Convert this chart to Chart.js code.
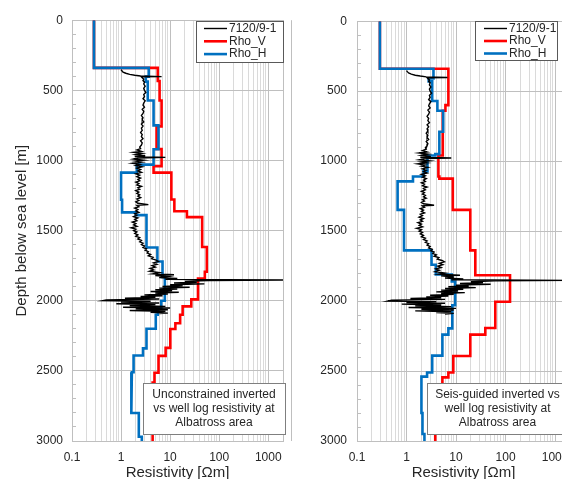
<!DOCTYPE html>
<html><head><meta charset="utf-8">
<script src="https://cdn.jsdelivr.net/npm/chart.js@4.4.1/dist/chart.umd.min.js"></script>
<style>
html,body{margin:0;padding:0;background:#fff;overflow:hidden;width:562px;height:479px;position:relative}
#c1{position:absolute;left:0;top:0}
#c2{position:absolute;left:280px;top:0}
</style></head><body>
<canvas id="c1" width="292" height="490"></canvas>
<canvas id="c2" width="310" height="490"></canvas>
<script>
// ---------- DATA ----------
const seriesNames = ['7120/9-1', 'Rho_V', 'Rho_H'];
const xTickLabels = ['0.1', '1', '10', '100', '1000'];
const yTickLabels = ['0', '500', '1000', '1500', '2000', '2500', '3000'];
const xTitle = 'Resistivity [Ωm]';
const yTitle = 'Depth below sea level [m]';
const noteLeft = ['Unconstrained inverted', 'vs well log resistivity at', 'Albatross area'];
const noteRight = ['Seis-guided inverted vs', 'well log resistivity at', 'Albatross area'];

// well log 7120/9-1 (depth m, resistivity ohm-m)
const wellDepth = [353,362,370,378,386,392,398,402,404,410,420,430,440,455,470,485,500,515,530,545,560,575,590,605,620,635,650,665,680,695,710,725,740,755,770,785,800,815,830,845,860,875,890,905,915,925,935,942,950,958,966,972,978,982,990,998,1005,1012,1020,1028,1036,1045,1055,1065,1075,1085,1095,1105,1115,1125,1135,1145,1155,1165,1175,1185,1195,1205,1215,1225,1235,1245,1255,1265,1275,1285,1295,1305,1315,1320,1330,1340,1350,1360,1370,1380,1390,1400,1410,1420,1430,1440,1450,1460,1470,1480,1490,1500,1510,1520,1530,1540,1550,1560,1570,1580,1590,1600,1610,1620,1630,1640,1650,1660,1670,1680,1690,1700,1710,1720,1730,1740,1750,1760,1770,1780,1790,1800,1808,1815,1820,1828,1835,1842,1848,1852,1856,1862,1868,1874,1880,1886,1892,1898,1904,1910,1916,1922,1928,1934,1940,1946,1952,1958,1964,1970,1976,1982,1988,1994,2000,2004,2010,2016,2022,2028,2034,2040,2046,2052,2058,2064,2070,2076,2082,2088,2092];
const wellRes = [1.0,1.05,1.1,1.25,1.5,1.9,2.5,6.7,2.6,2.7,2.9,2.8,3.0,2.9,3.1,2.9,3.0,3.2,2.9,3.0,2.8,3.1,2.9,2.8,3.0,2.7,2.9,2.8,2.6,2.8,2.7,2.9,2.6,2.8,2.6,2.7,2.5,2.7,2.6,2.8,2.5,2.7,2.6,2.4,2.5,2.1,2.6,1.8,2.7,2.0,3.1,1.9,8.0,2.3,1.8,2.9,2.0,2.6,1.7,2.4,2.0,2.7,2.1,2.5,2.2,2.6,2.0,2.4,2.1,2.5,2.2,2.4,2.0,2.3,2.1,2.6,2.2,2.4,2.0,2.3,2.1,2.4,2.2,2.5,2.1,2.3,2.0,2.2,3.6,2.1,2.3,1.9,2.2,2.0,2.3,1.9,2.1,1.8,2.2,1.9,2.1,1.7,2.0,1.8,2.1,1.6,2.0,1.8,2.1,1.9,2.2,2.0,2.4,2.2,2.6,2.4,2.8,2.6,3.0,2.8,3.3,3.1,3.6,3.4,4.0,3.6,4.5,4.2,5.2,5.8,4.6,5.4,4.3,5.0,3.9,4.6,3.8,6.0,4.5,12,5,9,6,14,8,2000,60,20,35,12,50,10,18,7,25,6,14,5,11,4,15,5,9,3,7,2.5,5,1.2,6,0.5,0.42,4,1.0,6,0.8,5,1.5,8,1.1,10,2,9,1.5,8,4,9,6];

// unconstrained inversion (left)
const leftHDepth = [0,340,402,438,572,750,920,1030,1087,1280,1370,1390,1620,1720,1830,2000,2050,2100,2200,2340,2390,2510,2570,2800,2970,3000];
const leftH      = [0.28,3.66,3.2,3.5,4.6,5.8,4.6,2.1,1.0,1.05,2.0,3.3,5.5,7.0,7.8,6.6,5.6,5.1,3.3,2.8,1.8,1.66,1.6,2.3,2.65];
const leftVDepth = [0,340,433,572,757,918,1040,1087,1278,1362,1404,1617,1793,1842,1990,2040,2100,2160,2202,2336,2393,2513,2584,3000];
const leftV      = [0.28,5.6,6.1,6.7,5.3,6.7,4.6,10.6,12.2,22,45,56,51,37,27,18,16,12.8,10.1,8.1,5.8,4.8,4.4];

// seismic-guided inversion (right)
const rightHDepth = [0,340,410,430,570,640,790,950,960,1073,1110,1145,1348,1638,1740,1810,1860,2030,2195,2240,2390,2510,2540,2800,2950,3000];
const rightH      = [0.29,3.5,2.8,3.3,4.2,5.5,4.6,3.8,2.65,2.2,1.35,0.66,0.89,3.2,3.9,8.2,9.6,8.4,7.0,5.3,3.3,2.6,2.0,2.1,2.3];
const rightVDepth = [0,340,600,640,960,1110,1125,1348,1638,1815,2005,2193,2240,2393,2510,2545,2800,3000];
const rightV      = [0.29,7.0,6.1,5.4,4.4,4.6,8.6,19.4,24.5,123,62,39,19.4,8.8,7.0,5.3,3.8];

// ---------- HELPERS ----------
const FONT = '"Liberation Sans", Arial, sans-serif';
Chart.defaults.font.family = FONT;
const TXT = '#262626', MAJOR = '#bfbfbf', MINOR = '#dadada';
const colors = {well: '#000000', V: '#ff0000', H: '#0070c0'};

function stepPts(depths, vals) {
  const p = [];
  vals.forEach((v, i) => { p.push({x: v, y: depths[i]}); p.push({x: v, y: depths[i + 1]}); });
  return p;
}
const wellPts = wellDepth.map((d, i) => ({x: wellRes[i], y: d}));
const isDecade = v => Math.abs(Math.log10(v) - Math.round(Math.log10(v))) < 1e-9;
const xTickValues = [];
xTickLabels.forEach(l => { const b = parseFloat(l); for (let m = 1; m <= 9; m++) xTickValues.push(m * b); });
xTickValues.push(2000);

const boxPlugin = {
  id: 'boxes',
  afterDatasetsDraw(chart, args, o) {
    const ctx = chart.ctx;
    ctx.save();
    const a = o.note;
    ctx.fillStyle = '#fff';
    ctx.fillRect(a.x, a.y, a.w, a.h);
    ctx.strokeStyle = '#7f7f7f'; ctx.lineWidth = 1;
    ctx.strokeRect(a.x + 0.5, a.y + 0.5, a.w, a.h);
    ctx.font = '12px ' + FONT; ctx.fillStyle = TXT;
    ctx.textAlign = 'center'; ctx.textBaseline = 'middle';
    a.lines.forEach((t, i) => ctx.fillText(t, a.x + a.w / 2, a.y + a.first + i * a.lh));
    const L = o.legend;
    ctx.fillStyle = '#fff';
    ctx.fillRect(L.x, L.y, L.w, L.h);
    ctx.strokeStyle = '#595959';
    ctx.strokeRect(L.x + 0.5, L.y + 0.5, L.w, L.h);
    ctx.textAlign = 'left';
    L.order.forEach((di, i) => {
      const ds = chart.data.datasets[di];
      const yy = L.y + L.first + i * L.lh;
      ctx.strokeStyle = ds.borderColor; ctx.lineWidth = ds.borderWidth;
      ctx.beginPath(); ctx.moveTo(L.lx1, yy); ctx.lineTo(L.lx2, yy); ctx.stroke();
      ctx.fillStyle = TXT;
      ctx.fillText(ds.label, L.tx, yy);
    });
    ctx.restore();
  }
};

function makeChart(id, hD, hV, vD, vV, cfg) {
  return new Chart(document.getElementById(id), {
    type: 'scatter',
    data: {datasets: [
      {label: seriesNames[0], data: wellPts, borderColor: colors.well, borderWidth: 1.4, showLine: true, pointRadius: 0, tension: 0},
      {label: seriesNames[2], data: stepPts(hD, hV), borderColor: colors.H, borderWidth: 2.6, showLine: true, pointRadius: 0, tension: 0},
      {label: seriesNames[1], data: stepPts(vD, vV), borderColor: colors.V, borderWidth: 2.6, showLine: true, pointRadius: 0, tension: 0}
    ]},
    options: {
      responsive: false, animation: false, devicePixelRatio: 1,
      layout: {padding: {top: 16, right: cfg.padRight, left: 0, bottom: 0}},
      plugins: {
        legend: {display: false}, tooltip: {enabled: false},
        boxes: {note: cfg.note, legend: cfg.legend}
      },
      scales: {
        x: {
          type: 'logarithmic', min: 0.1, max: 2000,
          afterBuildTicks: s => { s.ticks = xTickValues.map(v => ({value: v})); },
          afterFit: s => { s.height = 49; },
          ticks: {autoSkip: false, maxRotation: 0, minRotation: 0, padding: 9, color: TXT, font: {size: 12},
            callback: v => isDecade(v) && v <= 1000 ? xTickLabels[Math.round(Math.log10(v)) + 1] : ''},
          grid: {drawTicks: false, lineWidth: 1, color: c => (c.tick && (isDecade(c.tick.value) || c.tick.value >= 2000)) ? MAJOR : MINOR},
          border: {color: MAJOR},
          title: {display: true, text: xTitle, color: TXT, font: {size: 15}, padding: {top: 0, bottom: 8}}
        },
        y: {
          type: 'linear', reverse: true, min: 0, max: 3000,
          afterFit: s => { s.width = cfg.yWidth; },
          ticks: {stepSize: 100, autoSkip: false, padding: cfg.yPad, color: TXT, font: {size: 12},
            callback: v => v % 500 === 0 ? yTickLabels[v / 500] : ''},
          grid: {lineWidth: 1, tickLength: -4, tickColor: MAJOR,
            color: c => (c.tick && c.tick.value % 500 === 0) ? MAJOR : 'rgba(0,0,0,0)'},
          border: {color: MAJOR},
          title: {display: cfg.showYTitle, text: yTitle, color: TXT, font: {size: 15}, padding: {top: 13, bottom: 0}}
        }
      }
    },
    plugins: [boxPlugin]
  });
}

makeChart('c1', leftHDepth, leftH, leftVDepth, leftV, {
  padRight: 6, yWidth: 72, yPad: 13, showYTitle: true,
  note: {x: 143, y: 383, w: 142, h: 51, first: 12, lh: 14, lines: noteLeft},
  legend: {x: 196, y: 21, w: 87, h: 41, first: 7.5, lh: 12.8, lx1: 204, lx2: 227, tx: 229, order: [0, 2, 1]}
});
makeChart('c2', rightHDepth, rightH, rightVDepth, rightV, {
  padRight: 20, yWidth: 77, yPad: 14, showYTitle: false,
  note: {x: 147, y: 383, w: 141, h: 51, first: 12, lh: 14, lines: noteRight},
  legend: {x: 195, y: 21, w: 82, h: 39, first: 7.5, lh: 12.5, lx1: 204, lx2: 227, tx: 229, order: [0, 2, 1]}
});
</script>
</body></html>
